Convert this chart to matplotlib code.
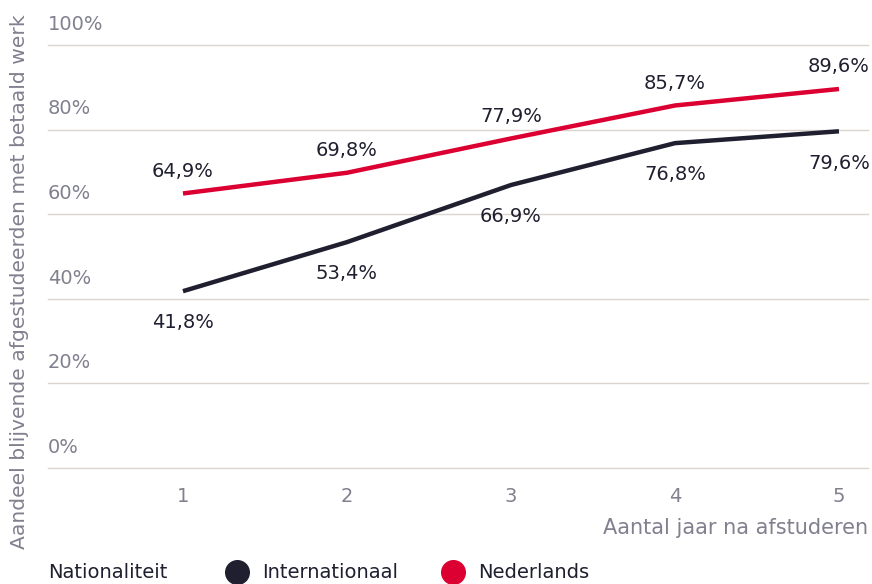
import matplotlib.pyplot as plt
from matplotlib.lines import Line2D

plt.rcParams['font.family'] = ['DejaVu Sans']

# gegevens
jaren = [1, 2, 3, 4, 5]
internationaal = [41.8, 53.4, 66.9, 76.8, 79.6]
nederlands = [64.9, 69.8, 77.9, 85.7, 89.6]
y_ticks = [0, 20, 40, 60, 80, 100]

kleur_int = '#1f1f30'
kleur_nl = '#dc0032'
grijs = '#80808f'
tekst = '#1f1f30'
fs = 14

fig = plt.figure(figsize=(8.72, 5.84), dpi=100)
ax = fig.add_axes([48/872, 116/584, 820/872, 423/584])

ax.set_xlim(0.177, 5.177)
ax.set_ylim(0, 100)

for v in y_ticks:
    ax.axhline(v, color='#ddd3d0', lw=1, zorder=1, clip_on=False)
    ax.annotate(f'{v}%', (0, v), xycoords=('axes fraction', 'data'),
                xytext=(0, 8), textcoords='offset points',
                ha='left', va='bottom', fontsize=fs, color=grijs)

ax.plot(jaren, internationaal, color=kleur_int, lw=3.2, solid_capstyle='butt', zorder=3)
ax.plot(jaren, nederlands, color=kleur_nl, lw=3.2, solid_capstyle='butt', zorder=3)

for x, v in zip(jaren, nederlands):
    ax.annotate(f'{v:.1f}%'.replace('.', ','), (x, v), xytext=(0, 9),
                textcoords='offset points', ha='center', va='bottom',
                fontsize=fs, color=tekst)
for x, v in zip(jaren, internationaal):
    ax.annotate(f'{v:.1f}%'.replace('.', ','), (x, v), xytext=(0, -16),
                textcoords='offset points', ha='center', va='top',
                fontsize=fs, color=tekst)

ax.set_xticks(jaren)
ax.set_xticklabels([str(j) for j in jaren])
ax.set_yticks([])
ax.tick_params(axis='x', length=0, pad=14, labelsize=fs, labelcolor=grijs)
for s in ax.spines.values():
    s.set_visible(False)

fig.text(868/872, 1 - 528/584, 'Aantal jaar na afstuderen', ha='right', va='center',
         fontsize=15, color=grijs)
fig.text(20/872, 1 - 282/584, 'Aandeel blijvende afgestudeerden met betaald werk',
         rotation=90, ha='center', va='center', fontsize=14.6, color=grijs)

# legenda
fig.text(48/872, 1 - 573/584, 'Nationaliteit', ha='left', va='center', fontsize=fs, color=tekst)
fig.add_artist(Line2D([237/872], [1 - 572/584], marker='o', markersize=17,
                      color=kleur_int, transform=fig.transFigure, linestyle=''))
fig.text(262/872, 1 - 573/584, 'Internationaal', ha='left', va='center', fontsize=fs, color=tekst)
fig.add_artist(Line2D([453/872], [1 - 572/584], marker='o', markersize=17,
                      color=kleur_nl, transform=fig.transFigure, linestyle=''))
fig.text(478/872, 1 - 573/584, 'Nederlands', ha='left', va='center', fontsize=fs, color=tekst)

fig.savefig('out.png', dpi=100)
